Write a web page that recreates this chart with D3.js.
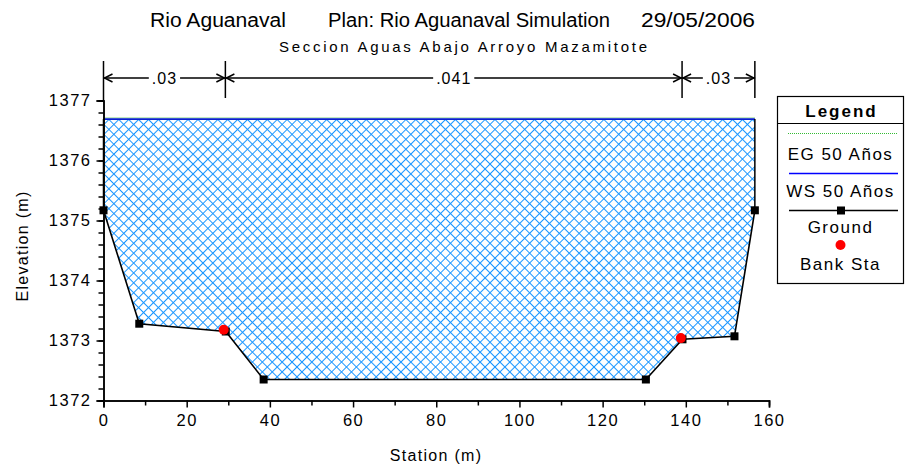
<!DOCTYPE html>
<html>
<head>
<meta charset="utf-8">
<script src="https://cdn.jsdelivr.net/npm/d3@7"></script>
<style>
body { margin: 0; background: #fff; }
svg { display: block; font-family: "Liberation Sans", Arial, sans-serif; }
</style>
</head>
<body>
<div id="chart"></div>
<script>
// Ground profile (station m, elevation m)
var groundSta = [0, 8.6, 29.4, 38.5, 130.4, 139.2, 151.7, 156.6];
var groundElev = [1375.17, 1373.28, 1373.15, 1372.35, 1372.35, 1373.02, 1373.07, 1375.17];

// Bank stations
var bankSta = [28.9, 138.8];
var bankElev = [1373.18, 1373.04];

// Water surface / energy grade (50 Años)
var wsElev = 1376.69;
var egElev = 1376.71;

// Manning n regions
var nStations = [0, 29.3, 139.1, 156.6];
var nValues = [".03", ".041", ".03"];

// Axis ticks
var xTicks = [0, 20, 40, 60, 80, 100, 120, 140, 160];
var yTicks = [1372, 1373, 1374, 1375, 1376, 1377];

var titleParts = ["Rio Aguanaval", "Plan: Rio Aguanaval Simulation", "29/05/2006"];
var subtitle = "Seccion Aguas Abajo Arroyo Mazamitote";
var legendItems = ["EG 50 Años", "WS 50 Años", "Ground", "Bank Sta"];

var width = 906, height = 472;

var svg = d3.select("#chart").append("svg")
    .attr("width", width)
    .attr("height", height);

var x = d3.scaleLinear().domain([0, 160]).range([103.5, 769]);
var y = d3.scaleLinear().domain([1372, 1377]).range([400.5, 100.5]);

// hatch pattern for the water area
var defs = svg.append("defs");
var pat = defs.append("pattern")
    .attr("id", "hatch")
    .attr("patternUnits", "userSpaceOnUse")
    .attr("width", 7)
    .attr("height", 7)
    .attr("patternTransform", "rotate(45)");
pat.append("path")
    .attr("d", "M0,0 L7,0 M0,0 L0,7")
    .attr("stroke", "#1a96ff")
    .attr("stroke-width", 2)
    .attr("fill", "none");

// titles
var titleX = [150, 328, 641], titleW = [136, 282, 114];
var title = svg.append("g").attr("font-size", 20).attr("fill", "#000");
titleParts.forEach(function(t, i) {
    title.append("text")
        .attr("x", titleX[i]).attr("y", 27)
        .attr("textLength", titleW[i])
        .attr("lengthAdjust", "spacingAndGlyphs")
        .text(t);
});

svg.append("text")
    .attr("x", 279).attr("y", 52)
    .attr("font-size", 15)
    .attr("textLength", 368)
    .attr("lengthAdjust", "spacing")
    .text(subtitle);

// water area
var last = groundSta[groundSta.length - 1];
var wsPoly = [[groundSta[0], wsElev], [last, wsElev]];
for (var i = groundSta.length - 1; i >= 0; i--) wsPoly.push([groundSta[i], groundElev[i]]);

svg.append("path")
    .datum(wsPoly)
    .attr("d", d3.line().x(d => x(d[0])).y(d => y(d[1])))
    .attr("fill", "url(#hatch)")
    .attr("stroke", "none");

// EG and WS lines
svg.append("line")
    .attr("x1", x(0)).attr("x2", x(last))
    .attr("y1", y(egElev)).attr("y2", y(egElev))
    .attr("stroke", "#33bb33").attr("stroke-width", 1)
    .attr("stroke-dasharray", "1,1");
svg.append("line")
    .attr("x1", x(0)).attr("x2", x(last))
    .attr("y1", y(wsElev)).attr("y2", y(wsElev))
    .attr("stroke", "#0a1ed0").attr("stroke-width", 1.6);

// vertical walls at the ends up to WS
[0, groundSta.length - 1].forEach(function(i) {
    svg.append("line")
        .attr("x1", x(groundSta[i])).attr("x2", x(groundSta[i]))
        .attr("y1", y(groundElev[i])).attr("y2", y(wsElev))
        .attr("stroke", "#000").attr("stroke-width", 1.5);
});

// axes
var yAxisMinor = d3.axisLeft(y).tickValues(d3.range(1372, 1377.01, 0.2)).tickSize(5).tickFormat("");
var yAxis = d3.axisLeft(y).tickValues(yTicks).tickSize(7).tickPadding(5).tickFormat(d3.format("d"));
var xAxisMinor = d3.axisBottom(x).tickValues(d3.range(10, 160, 20)).tickSize(5).tickFormat("");
var xAxis = d3.axisBottom(x).tickValues(xTicks).tickSize(7).tickPadding(7).tickFormat(d3.format("d"));

function styleAxis(g) {
    g.select(".domain").attr("stroke-width", 1.5);
    g.selectAll(".tick line").attr("stroke-width", 1.5);
    g.selectAll("text")
        .attr("font-size", 16.5)
        .attr("letter-spacing", 1.5)
        .attr("fill", "#000")
        .attr("font-family", "Liberation Sans, Arial, sans-serif");
}

svg.append("g").attr("transform", "translate(" + x(0) + ",0)").call(yAxisMinor).call(styleAxis);
svg.append("g").attr("transform", "translate(" + x(0) + ",0)").call(yAxis).call(styleAxis);
svg.append("g").attr("transform", "translate(0," + y(1372) + ")").call(xAxisMinor).call(styleAxis);
svg.append("g").attr("transform", "translate(0," + y(1372) + ")").call(xAxis).call(styleAxis);

svg.append("text")
    .attr("transform", "translate(27.5,246) rotate(-90)")
    .attr("text-anchor", "middle")
    .attr("font-size", 16)
    .attr("letter-spacing", 1.3)
    .text("Elevation (m)");
svg.append("text")
    .attr("x", 436).attr("y", 461)
    .attr("text-anchor", "middle")
    .attr("font-size", 16)
    .attr("letter-spacing", 1.3)
    .text("Station (m)");

// Manning n bars and arrows
var nTop = 61, nBottom = 98, nArrowY = 78;
var ng = svg.append("g").attr("stroke", "#000").attr("stroke-width", 1.5);
nStations.forEach(function(s, i) {
    ng.append("line")
        .attr("x1", x(s)).attr("x2", x(s))
        .attr("y1", nTop).attr("y2", i === 0 ? y(1377) : nBottom);
});
nValues.forEach(function(v, i) {
    var x0 = x(nStations[i]), x1 = x(nStations[i + 1]);
    var cx = (x0 + x1) / 2;
    var t = svg.append("text")
        .attr("x", cx).attr("y", nArrowY + 6)
        .attr("text-anchor", "middle")
        .attr("font-size", 16)
        .attr("letter-spacing", 1)
        .text(v);
    var w = t.node().getComputedTextLength();
    var tl = cx - w / 2 - 3, tr = cx + w / 2 + 3;
    ng.append("line").attr("x1", x0).attr("x2", tl).attr("y1", nArrowY).attr("y2", nArrowY);
    ng.append("line").attr("x1", tr).attr("x2", x1).attr("y1", nArrowY).attr("y2", nArrowY);
    ng.append("path").attr("fill", "none")
        .attr("d", "M" + (x0 + 9) + "," + (nArrowY - 4) + "L" + (x0 + 1) + "," + nArrowY + "L" + (x0 + 9) + "," + (nArrowY + 4));
    ng.append("path").attr("fill", "none")
        .attr("d", "M" + (x1 - 9) + "," + (nArrowY - 4) + "L" + (x1 - 1) + "," + nArrowY + "L" + (x1 - 9) + "," + (nArrowY + 4));
});

// ground line and points
var groundPts = groundSta.map((s, i) => [s, groundElev[i]]);
svg.append("path")
    .datum(groundPts)
    .attr("d", d3.line().x(d => x(d[0])).y(d => y(d[1])))
    .attr("fill", "none")
    .attr("stroke", "#000")
    .attr("stroke-width", 1.6);

svg.append("g").selectAll("rect")
    .data(groundPts)
    .join("rect")
    .attr("x", d => x(d[0]) - 4)
    .attr("y", d => y(d[1]) - 4)
    .attr("width", 8).attr("height", 8)
    .attr("fill", "#000");

svg.append("g").selectAll("circle")
    .data(bankSta.map((s, i) => [s, bankElev[i]]))
    .join("circle")
    .attr("cx", d => x(d[0]))
    .attr("cy", d => y(d[1]))
    .attr("r", 5)
    .attr("fill", "#ff0000");

// legend
var lg = svg.append("g");
var lx0 = 777.5, lx1 = 903.5, ly0 = 96.5, ly1 = 283.5;
lg.append("rect")
    .attr("x", lx0).attr("y", ly0)
    .attr("width", lx1 - lx0).attr("height", ly1 - ly0)
    .attr("fill", "#fff").attr("stroke", "#000").attr("stroke-width", 1.2);
lg.append("line")
    .attr("x1", lx0).attr("x2", lx1).attr("y1", 123.5).attr("y2", 123.5)
    .attr("stroke", "#000").attr("stroke-width", 1);
var lcx = (lx0 + lx1) / 2;
lg.append("text")
    .attr("x", lcx + 1).attr("y", 117)
    .attr("text-anchor", "middle")
    .attr("font-size", 17)
    .attr("font-weight", "bold")
    .attr("letter-spacing", 2)
    .text("Legend");

lg.append("line")
    .attr("x1", 788).attr("x2", 897).attr("y1", 133.5).attr("y2", 133.5)
    .attr("stroke", "#33bb33").attr("stroke-width", 1).attr("stroke-dasharray", "1,1");
lg.append("line")
    .attr("x1", 789).attr("x2", 898).attr("y1", 173.5).attr("y2", 173.5)
    .attr("stroke", "#0000ff").attr("stroke-width", 1.5);
lg.append("line")
    .attr("x1", 789).attr("x2", 898).attr("y1", 210.5).attr("y2", 210.5)
    .attr("stroke", "#000").attr("stroke-width", 1.5);
lg.append("rect")
    .attr("x", lcx - 4 + 0.5).attr("y", 206.5).attr("width", 8).attr("height", 8).attr("fill", "#000");
lg.append("circle")
    .attr("cx", lcx).attr("cy", 245).attr("r", 5).attr("fill", "#ff0000");

var labelY = [160, 197, 233, 270];
legendItems.forEach(function(t, i) {
    lg.append("text")
        .attr("x", lcx).attr("y", labelY[i])
        .attr("text-anchor", "middle")
        .attr("font-size", 17)
        .attr("letter-spacing", 1.5)
        .text(t);
});
</script>
</body>
</html>
